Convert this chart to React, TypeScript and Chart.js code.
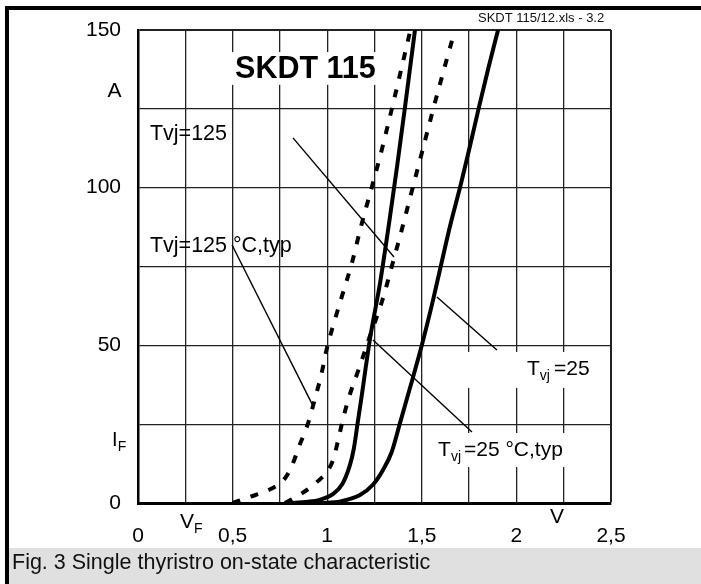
import React, { useEffect, useRef } from "react";
import { Chart, registerables } from "chart.js";

Chart.register(...registerables);

// ---- data (V_F in volts, I_F in amperes) ----
const typ125V = [0.5, 0.59, 0.69, 0.76, 0.79, 0.815, 0.855, 0.9, 0.935, 0.97, 1.0, 1.04, 1.08, 1.13, 1.18, 1.235, 1.28, 1.34, 1.44];
const typ125I = [0, 1.9, 4.1, 6.7, 9, 12, 18.5, 25.5, 33, 41, 49.5, 58, 66, 76, 88, 100, 110, 124.6, 150];

const max125V = [0.777, 0.87, 0.946, 1.0, 1.033, 1.058, 1.085, 1.115, 1.17, 1.226, 1.29, 1.346, 1.4, 1.452, 1.5, 1.559, 1.615, 1.675];
const max125I = [0, 3.2, 6.7, 10, 14, 20, 27, 33.5, 43, 53, 64, 76, 88, 100, 111, 124.6, 137, 150];

const typ25V = [0.79, 0.9, 0.96, 1.03, 1.08, 1.12, 1.14, 1.16, 1.18, 1.226, 1.28, 1.33, 1.37, 1.41, 1.464];
const typ25I = [0, 0.4, 1, 2.8, 6, 12, 17, 25, 33, 52, 70, 90, 107, 125, 150];

const max25V = [0.96, 1.07, 1.173, 1.24, 1.295, 1.34, 1.385, 1.44, 1.5, 1.56, 1.6, 1.65, 1.706, 1.75, 1.8, 1.85, 1.903];
const max25I = [0, 0.5, 2.5, 5.7, 10.5, 16, 25.4, 37, 50, 64.5, 75, 88, 101, 112, 125, 137.5, 150];

// label leader lines: [V1, I1, V2, I2]
const leader125 = [0.819, 115.8, 1.353, 78.0];
const leader125typ = [0.497, 81.8, 0.925, 30.8];
const leader25 = [1.58, 65.3, 1.897, 48.5];
const leader25typ = [1.242, 51.7, 1.765, 22.5];

const xLabeled = [0, 0.5, 1, 1.5, 2, 2.5];
const yLabeled = [0, 50, 100, 150];

const FONT = '"Liberation Sans", Arial, Helvetica, sans-serif';

const toPts = (xs: number[], ys: number[]) => xs.map((x, i) => ({ x, y: ys[i] }));
const seg = (s: number[]) => [
  { x: s[0], y: s[1] },
  { x: s[2], y: s[3] },
];

const decorPlugin = {
  id: "decor",
  beforeDatasetsDraw(chart: any) {
    const ctx = chart.ctx;
    const X = (v: number) => chart.scales.x.getPixelForValue(v);
    const Y = (v: number) => chart.scales.y.getPixelForValue(v);
    ctx.save();
    ctx.fillStyle = "#fff";
    const box = (v1: number, i1: number, v2: number, i2: number) =>
      ctx.fillRect(X(v1), Y(i1), X(v2) - X(v1), Y(i2) - Y(i1));
    box(0.476, 143.0, 1.311, 132.6);
    box(1.596, 47.9, 2.442, 36.5);
    box(1.543, 22.2, 2.442, 11.4);
    ctx.restore();
  },
  afterDraw(chart: any) {
    const ctx = chart.ctx;
    const X = (v: number) => chart.scales.x.getPixelForValue(v);
    const Y = (v: number) => chart.scales.y.getPixelForValue(v);
    const W = chart.width;
    const H = chart.height;
    ctx.save();
    // page frame
    ctx.fillStyle = "#000";
    ctx.fillRect(5, 6, 4, H - 6);
    ctx.fillRect(5, 6, W - 5, 4);
    // caption box
    ctx.fillStyle = "#e0e0e0";
    ctx.fillRect(9, 548, W - 9, H - 548);
    ctx.fillStyle = "#111";
    ctx.textBaseline = "alphabetic";
    ctx.textAlign = "left";
    ctx.font = `21.5px ${FONT}`;
    ctx.fillText("Fig. 3 Single thyristro on-state characteristic", 12, 569);
    ctx.font = `13px ${FONT}`;
    ctx.fillText("SKDT 115/12.xls - 3.2", 478, 22);

    ctx.fillStyle = "#000";
    ctx.font = `bold 30.5px ${FONT}`;
    ctx.fillText("SKDT 115", X(0.513), Y(134.8));

    ctx.font = `21.5px ${FONT}`;
    ctx.fillText("Tvj=125", X(0.063), Y(115.1));
    ctx.fillText("Tvj=125 °C,typ", X(0.063), Y(79.6));

    const sub = (x: number, y: number, main: string, s: string, rest: string, mainSize: number, subSize: number, gap: number) => {
      ctx.font = `${mainSize}px ${FONT}`;
      ctx.fillText(main, x, y);
      const w1 = ctx.measureText(main).width;
      ctx.font = `${subSize}px ${FONT}`;
      ctx.fillText(s, x + w1, y + 5);
      const w2 = ctx.measureText(s).width;
      if (rest) {
        ctx.font = `${mainSize}px ${FONT}`;
        ctx.fillText(rest, x + w1 + w2 + gap, y);
      }
    };
    sub(X(2.056), Y(40.6), "T", "vj", "=25", 21, 14, 4);
    sub(X(1.586), Y(14.9), "T", "vj", "=25 °C,typ", 21, 14, 3);

    // axis unit / symbol labels
    ctx.font = `21px ${FONT}`;
    ctx.textAlign = "center";
    ctx.fillText("A", X(-0.124), Y(128.8));
    ctx.textAlign = "left";
    sub(X(-0.137), Y(18.1), "I", "F", "", 20, 14, 0);
    sub(X(0.222), Y(-7.9), "V", "F", "", 21, 14, 0);
    ctx.font = `21px ${FONT}`;
    ctx.fillText("V", X(2.178), Y(-6.3));
    ctx.restore();
  },
};

export default function App() {
  const ref = useRef<HTMLCanvasElement | null>(null);
  useEffect(() => {
    if (!ref.current) return;
    const curve = (pts: any, dashed: boolean) => ({
      data: pts,
      showLine: true,
      borderColor: "#000",
      borderWidth: 4,
      borderDash: dashed ? [8, 11] : [],
      borderCapStyle: "butt",
      pointRadius: 0,
      cubicInterpolationMode: "monotone",
      fill: false,
    });
    const leader = (pts: any) => ({
      data: pts,
      showLine: true,
      borderColor: "#000",
      borderWidth: 1.4,
      pointRadius: 0,
      fill: false,
    });
    const chart = new Chart(ref.current, {
      type: "scatter",
      data: {
        datasets: [
          curve(toPts(typ125V, typ125I), true),
          curve(toPts(max125V, max125I), true),
          curve(toPts(typ25V, typ25I), false),
          curve(toPts(max25V, max25I), false),
          leader(seg(leader125)),
          leader(seg(leader125typ)),
          leader(seg(leader25)),
          leader(seg(leader25typ)),
        ] as any,
      },
      options: {
        animation: false,
        responsive: false,
        maintainAspectRatio: false,
        devicePixelRatio: 1,
        layout: { padding: { left: 0, right: 90, top: 30, bottom: 0 } },
        plugins: { legend: { display: false }, tooltip: { enabled: false } },
        scales: {
          x: {
            type: "linear",
            min: 0,
            max: 2.5,
            afterFit: (s: any) => {
              s.height = 81;
            },
            ticks: {
              stepSize: 0.25,
              autoSkip: false,
              maxRotation: 0,
              padding: 21,
              color: "#000",
              font: { family: FONT, size: 21 },
              callback: (v: any) =>
                xLabeled.some((t) => Math.abs(t - v) < 1e-6) ? String(v).replace(".", ",") : "",
            },
            grid: {
              drawTicks: false,
              color: "#222",
              lineWidth: (c: any) => (c.tick && Math.abs(c.tick.value - 2.5) < 1e-6 ? 2 : 1.3),
            },
            border: { display: true, color: "#000", width: 3 },
          },
          y: {
            type: "linear",
            min: 0,
            max: 150,
            afterFit: (s: any) => {
              s.width = 138;
            },
            ticks: {
              stepSize: 25,
              autoSkip: false,
              padding: 17,
              color: "#000",
              font: { family: FONT, size: 21 },
              callback: (v: any) => (yLabeled.some((t) => Math.abs(t - v) < 1e-6) ? String(v) : ""),
            },
            grid: {
              drawTicks: false,
              color: "#222",
              lineWidth: (c: any) => (c.tick && Math.abs(c.tick.value - 150) < 1e-6 ? 2 : 1.3),
            },
            border: { display: true, color: "#000", width: 2.5 },
          },
        },
      } as any,
      plugins: [decorPlugin],
    });
    return () => chart.destroy();
  }, []);
  return (
    <div style={{ position: "fixed", left: 0, top: 0, width: 701, height: 584, background: "#fff" }}>
      <canvas ref={ref} width={701} height={584} style={{ display: "block" }} />
    </div>
  );
}
